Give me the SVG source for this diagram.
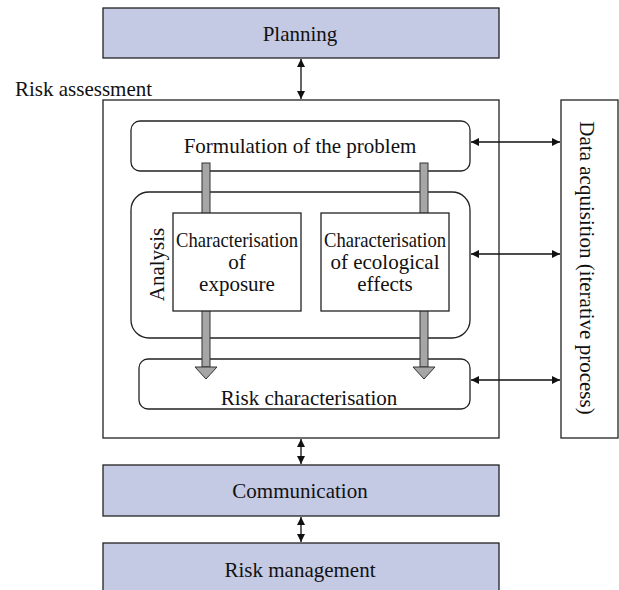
<svg xmlns="http://www.w3.org/2000/svg" width="619" height="590" viewBox="0 0 619 590">
<style>
text{font-family:"Liberation Serif","Times New Roman",serif;font-size:21px;fill:#111}
.blue{fill:#c4c9e4;stroke:#222;stroke-width:1.3}
.box{fill:#fff;stroke:#222;stroke-width:1.3}
.conn{stroke:#111;stroke-width:1.3;fill:none}
.shaft{fill:#a6a6a6;stroke:#333;stroke-width:1}
</style>
<defs>
<marker id="ah" viewBox="0 0 10 10" refX="10" refY="5" markerWidth="8" markerHeight="8" markerUnits="userSpaceOnUse" orient="auto-start-reverse">
<path d="M0,0 L10,5 L0,10 z" fill="#111"/>
</marker>
</defs>
<rect width="619" height="590" fill="#fff"/>
<g id="planning"><rect class="blue" x="103" y="8" width="396" height="50"/><text x="300" y="41" text-anchor="middle">Planning</text></g>
<g id="risk-assessment"><rect class="box" x="103" y="100" width="396" height="338"/><text x="15" y="96">Risk assessment</text></g>
<g id="formulation"><rect class="box" x="131" y="121" width="339" height="50" rx="9"/><text x="300" y="153" text-anchor="middle">Formulation of the problem</text></g>
<g id="analysis"><rect class="box" x="131" y="192" width="339" height="146" rx="18"/><text transform="translate(164,264.5) rotate(-90)" text-anchor="middle">Analysis</text></g>
<g id="risk-characterisation"><rect class="box" x="139" y="359" width="331" height="50" rx="9"/><text x="309" y="405" text-anchor="middle">Risk characterisation</text></g>
<g id="flow-arrows">
<rect class="shaft" x="202" y="163" width="8" height="204"/>
<path class="shaft" d="M195,367 L217,367 L206,379 z"/>
<rect class="shaft" x="420" y="163" width="8" height="204"/>
<path class="shaft" d="M413,367 L435,367 L424,379 z"/>
</g>
<g id="exposure"><rect class="box" x="173" y="213" width="128" height="98"/><text x="237" y="247" text-anchor="middle" textLength="122" lengthAdjust="spacingAndGlyphs">Characterisation</text><text x="237" y="269" text-anchor="middle">of</text><text x="237" y="291" text-anchor="middle">exposure</text></g>
<g id="ecological"><rect class="box" x="321" y="213" width="128" height="98"/><text x="385" y="247" text-anchor="middle" textLength="122" lengthAdjust="spacingAndGlyphs">Characterisation</text><text x="385" y="269" text-anchor="middle">of ecological</text><text x="385" y="291" text-anchor="middle">effects</text></g>
<g id="data-acquisition"><rect class="box" x="561" y="100" width="57" height="338"/><text transform="translate(580,268) rotate(90)" text-anchor="middle">Data acquisition (iterative process)</text></g>
<g id="communication"><rect class="blue" x="103" y="465" width="396" height="51"/><text x="300" y="498" text-anchor="middle">Communication</text></g>
<g id="risk-management"><rect class="blue" x="103" y="543" width="396" height="60"/><text x="300" y="577" text-anchor="middle">Risk management</text></g>
<g id="connectors">
<line class="conn" x1="301" y1="59" x2="301" y2="99" marker-start="url(#ah)" marker-end="url(#ah)"/>
<line class="conn" x1="301" y1="439" x2="301" y2="464" marker-start="url(#ah)" marker-end="url(#ah)"/>
<line class="conn" x1="301" y1="517" x2="301" y2="542" marker-start="url(#ah)" marker-end="url(#ah)"/>
<line class="conn" x1="471" y1="142" x2="560" y2="142" marker-start="url(#ah)" marker-end="url(#ah)"/>
<line class="conn" x1="471" y1="254" x2="560" y2="254" marker-start="url(#ah)" marker-end="url(#ah)"/>
<line class="conn" x1="471" y1="380" x2="560" y2="380" marker-start="url(#ah)" marker-end="url(#ah)"/>
</g>
</svg>
